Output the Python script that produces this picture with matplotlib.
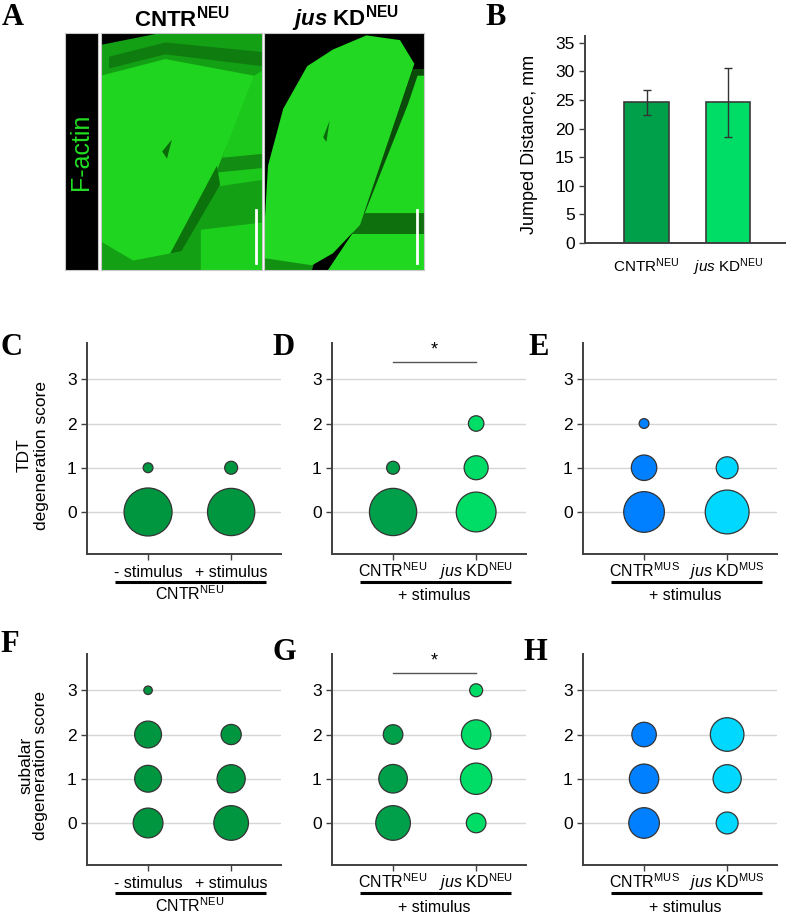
import matplotlib
matplotlib.use("Agg")
import matplotlib.pyplot as plt
from matplotlib.patches import Polygon
from matplotlib.transforms import blended_transform_factory, offset_copy

plt.rcParams.update({
    "font.family": "Liberation Sans",
    "mathtext.fontset": "custom",
    "mathtext.rm": "Liberation Sans",
    "mathtext.it": "Liberation Sans:italic",
    "mathtext.bf": "Liberation Sans:bold",
    "mathtext.bfit": "Liberation Sans:italic:bold",
    "axes.edgecolor": "#404040",
    "xtick.color": "#404040",
    "ytick.color": "#404040",
    "xtick.labelcolor": "black",
    "ytick.labelcolor": "black",
})

# --- data -------------------------------------------------------------
# B: jumped distance (mm), mean +/- error
JUMP_GROUPS = ["CNTR", "jus KD"]
JUMP_MEAN = [24.6, 24.6]
JUMP_ERR = [2.2, 6.0]

# C-H: share of animals (%) for degeneration score 0,1,2,3
SCORES = [0, 1, 2, 3]
TDT_CNTR_NOSTIM = [96, 4, 0, 0]
TDT_CNTR_STIM = [93, 7, 0, 0]
TDT_NEU_CNTR = [93, 7, 0, 0]
TDT_NEU_JUS = [66, 24, 10, 0]
TDT_MUS_CNTR = [69, 27, 4, 0]
TDT_MUS_JUS = [80, 20, 0, 0]
SUB_CNTR_NOSTIM = [37, 30, 30, 3]
SUB_CNTR_STIM = [50, 33, 17, 0]
SUB_NEU_CNTR = [50, 34, 16, 0]
SUB_NEU_JUS = [16, 41, 36, 7]
SUB_MUS_CNTR = [39, 36, 25, 0]
SUB_MUS_JUS = [20, 33, 47, 0]

CNTR_NEU = r"CNTR$^{\mathrm{NEU}}$"
JUS_NEU = r"$\mathit{jus}$ KD$^{\mathrm{NEU}}$"
CNTR_MUS = r"CNTR$^{\mathrm{MUS}}$"
JUS_MUS = r"$\mathit{jus}$ KD$^{\mathrm{MUS}}$"

GREEN = "#009640"
GREEN_D = "#009f4a"
GREEN_L = "#00dd66"
BLUE = "#0080ff"
CYAN = "#00d8ff"
SIZE_PER_PCT = 12.44   # marker area (pt^2) per percent

W, H = 788, 913
fig = plt.figure(figsize=(W / 100, H / 100), dpi=100)


def px_axes(left, top, right, bottom):
    return fig.add_axes([left / W, 1 - bottom / H, (right - left) / W, (bottom - top) / H])


def panel_letter(x, y, s):
    fig.text(x / W, 1 - y / H, s, fontsize=22, fontweight="bold",
             family="Liberation Serif", va="baseline", ha="left")


# --- A: microscopy panels (schematic stand-in) ------------------------
def image_axes(left, right):
    ax = px_axes(left, 33, right, 270)
    ax.set_xlim(0, 1)
    ax.set_ylim(0, 1)
    ax.set_xticks([])
    ax.set_yticks([])
    for sp in ax.spines.values():
        sp.set_color("#c8c8c8")
        sp.set_linewidth(0.8)
    return ax


strip = image_axes(65, 98)
strip.set_facecolor("black")
strip.text(0.5, 0.5, "F-actin", rotation=90, color="#22dd22", fontsize=18,
           ha="center", va="center", transform=strip.transAxes)

img1 = image_axes(101, 262)
img1.set_facecolor("#14a014")
shapes1 = [
    ([(0.62, 0.0), (1, 0.0), (1, 0.2), (0.62, 0.17)], "#1dcf1d"),
    ([(0.7, 0.35), (1, 0.38), (1, 0.84), (0.9, 0.8)], "#1cc81c"),
    ([(0.7, 0.41), (1, 0.43), (1, 0.49), (0.7, 0.47)], "#128c12"),
    ([(0, 0.82), (0.4, 0.89), (0.95, 0.82), (0.72, 0.42), (0.55, 0.2),
      (0.43, 0.07), (0.2, 0.04), (0, 0.12)], "#1fd51f"),
    ([(0.72, 0.44), (0.43, 0.07), (0.5, 0.08), (0.74, 0.36)], "#0c720c"),
    ([(0.05, 0.9), (0.4, 0.96), (1, 0.92), (1, 0.86), (0.4, 0.91), (0.05, 0.85)], "#0f7c0f"),
    ([(0, 1), (0.37, 1), (0, 0.95)], "black"),
    ([(0.38, 0.5), (0.44, 0.55), (0.41, 0.47)], "#0a6a0a"),
]
for pts, col in shapes1:
    img1.add_patch(Polygon(pts, closed=True, facecolor=col, edgecolor="none"))
img1.plot([0.963, 0.963], [0.03, 0.253], color="white", lw=2)

img2 = image_axes(264, 424)
img2.set_facecolor("black")
shapes2 = [
    ([(0.5, 0.0), (1, 0.0), (1, 0.85), (0.93, 0.85)], "#0b4a0b"),
    ([(0.4, 0.0), (1, 0.0), (1, 0.15), (0.55, 0.15)], "#20d820"),
    ([(0.55, 0.15), (1, 0.15), (1, 0.24), (0.6, 0.24)], "#0d700d"),
    ([(0.63, 0.24), (1, 0.24), (1, 0.82), (0.96, 0.82), (0.9, 0.7)], "#20d820"),
    ([(0, 0.0), (0.3, 0.0), (0.35, 0.12), (0, 0.18)], "#129012"),
    ([(0, 0.15), (0.025, 0.44), (0.12, 0.68), (0.27, 0.86), (0.43, 0.93),
      (0.64, 0.99), (0.85, 0.97), (0.94, 0.87), (0.6, 0.19), (0.43, 0.07),
      (0.3, 0.02), (0, 0.05)], "#22d822"),
    ([(0.37, 0.56), (0.41, 0.63), (0.39, 0.54)], "#0b6a0b"),
]
for pts, col in shapes2:
    img2.add_patch(Polygon(pts, closed=True, facecolor=col, edgecolor="none"))
img2.plot([0.956, 0.956], [0.03, 0.253], color="white", lw=2)

fig.text(181.5 / W, 1 - 26 / H, r"$\mathbf{CNTR}^{\mathbf{NEU}}$", fontsize=16,
         ha="center", va="baseline")
fig.text(345 / W, 1 - 26 / H, r"$\mathbfit{jus}\ \mathbf{KD}^{\mathbf{NEU}}$",
         fontsize=16, ha="center", va="baseline")
panel_letter(2, 25, "A")

# --- B: jump distance bars --------------------------------------------
axb = px_axes(585, 36, 785, 243)
axb.bar(range(len(JUMP_MEAN)), JUMP_MEAN, width=0.55, color=[GREEN_D, GREEN_L],
        edgecolor="#3a3a3a", linewidth=1.2, yerr=JUMP_ERR, capsize=3,
        error_kw=dict(ecolor="#333333", elinewidth=1, capthick=1))
axb.set_xlim(-0.755, 1.70)
axb.set_ylim(0, 36.2)
axb.set_yticks(range(0, 36, 5))
axb.set_xticks([])
axb.tick_params(axis="y", labelsize=12.5, length=4, width=1)
for side in ("top", "right"):
    axb.spines[side].set_visible(False)
for side in ("left", "bottom"):
    axb.spines[side].set_linewidth(1.4)
tb = blended_transform_factory(axb.transData, axb.transAxes)
for i, lab in enumerate([CNTR_NEU, JUS_NEU]):
    axb.text(i, 0, lab, transform=offset_copy(tb, fig, y=-29, units="dots"),
             ha="center", va="baseline", fontsize=11)
fig.text(530 / W, 1 - 144 / H, "Jumped Distance, mm", rotation=90, fontsize=13,
         ha="center", va="center")
panel_letter(485, 25, "B")


# --- C-H: bubble plots ------------------------------------------------
def bubble_panel(left, top, series, colors, ticklabels, group_label, sig=False):
    ax = px_axes(left, top, left + 194, top + 211)
    for i, (frac, col) in enumerate(zip(series, colors)):
        ys = [s for s, f in zip(SCORES, frac) if f > 0]
        sizes = [f * SIZE_PER_PCT for f in frac if f > 0]
        ax.scatter([i] * len(ys), ys, s=sizes, color=col, edgecolors="#333333",
                   linewidths=0.9, zorder=3, clip_on=False)
    ax.set_xlim(-0.735, 1.60)
    ax.set_ylim(-0.95, 3.82)
    ax.set_yticks(SCORES)
    ax.set_xticks([0, 1])
    ax.set_xticklabels([])
    ax.tick_params(labelsize=12.5, length=4, width=1)
    ax.grid(axis="y", color="#d6d6d6", lw=1)
    ax.set_axisbelow(True)
    for side in ("top", "right"):
        ax.spines[side].set_visible(False)
    for side in ("left", "bottom"):
        ax.spines[side].set_linewidth(1.4)
    tr = blended_transform_factory(ax.transData, ax.transAxes)
    for i, lab in enumerate(ticklabels):
        ax.text(i, 0, lab, transform=offset_copy(tr, fig, y=-23, units="dots"),
                ha="center", va="baseline", fontsize=11.5)
    ax.plot([-0.4, 1.42], [0, 0], transform=offset_copy(tr, fig, y=-28, units="dots"),
            color="black", lw=2.2, clip_on=False, solid_capstyle="butt")
    ax.text(0.5, 0, group_label, transform=offset_copy(tr, fig, y=-46.5, units="dots"),
            ha="center", va="baseline", fontsize=11.5)
    if sig:
        ax.plot([0, 1], [3.39, 3.39], color="#555555", lw=1, clip_on=False)
        ax.text(0.5, 3.48, "*", ha="center", va="bottom", fontsize=13)
    return ax


STIM_LABELS = ["- stimulus", "+ stimulus"]
bubble_panel(87, 343, [TDT_CNTR_NOSTIM, TDT_CNTR_STIM], [GREEN, GREEN],
             STIM_LABELS, CNTR_NEU)
bubble_panel(332, 343, [TDT_NEU_CNTR, TDT_NEU_JUS], [GREEN_D, GREEN_L],
             [CNTR_NEU, JUS_NEU], "+ stimulus", sig=True)
bubble_panel(583, 343, [TDT_MUS_CNTR, TDT_MUS_JUS], [BLUE, CYAN],
             [CNTR_MUS, JUS_MUS], "+ stimulus")
bubble_panel(87, 654, [SUB_CNTR_NOSTIM, SUB_CNTR_STIM], [GREEN, GREEN],
             STIM_LABELS, CNTR_NEU)
bubble_panel(332, 654, [SUB_NEU_CNTR, SUB_NEU_JUS], [GREEN_D, GREEN_L],
             [CNTR_NEU, JUS_NEU], "+ stimulus", sig=True)
bubble_panel(583, 654, [SUB_MUS_CNTR, SUB_MUS_JUS], [BLUE, CYAN],
             [CNTR_MUS, JUS_MUS], "+ stimulus")

fig.text(33 / W, 1 - 455 / H, "TDT\ndegeneration score", rotation=90, fontsize=12.5,
         ha="center", va="center", multialignment="center", linespacing=1.15)
fig.text(33 / W, 1 - 765 / H, "subalar\ndegeneration score", rotation=90, fontsize=12.5,
         ha="center", va="center", multialignment="center", linespacing=1.0)

panel_letter(0, 355, "C")
panel_letter(272, 355, "D")
panel_letter(528, 355, "E")
panel_letter(0, 652, "F")
panel_letter(273, 660, "G")
panel_letter(523, 660, "H")

fig.savefig("out.png", dpi=100)
